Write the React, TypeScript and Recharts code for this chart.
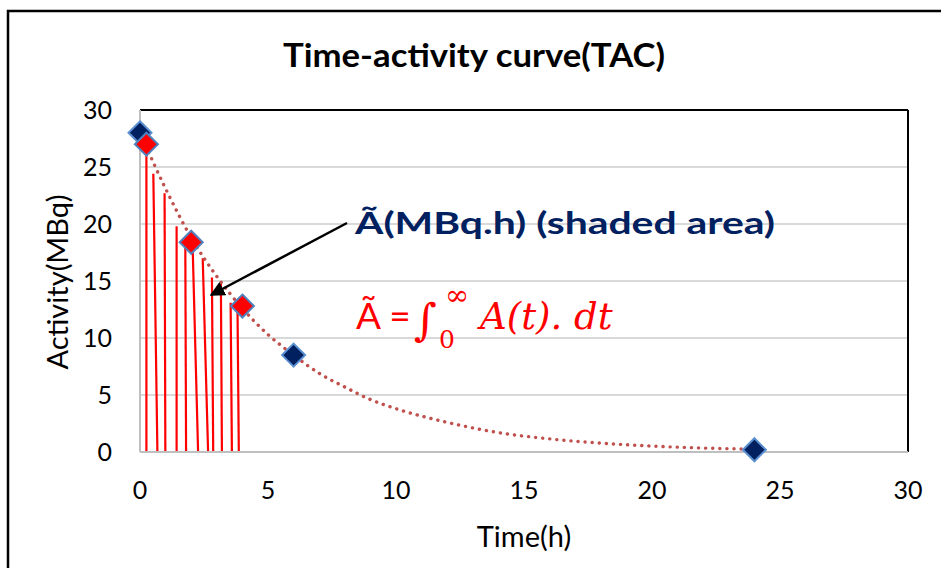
import {
  ComposedChart,
  Line,
  Scatter,
  XAxis,
  YAxis,
  CartesianGrid,
  ReferenceLine,
} from 'recharts';

// measured activity (MBq) at sample times (h)
const measuredTimes = [0, 6, 24];
const measuredActivity = [28, 8.5, 0.2];

// highlighted samples on the early part of the curve
const highlightTimes = [0.25, 2, 4];
const highlightActivity = [27, 18.4, 12.8];

// fitted decay curve, read along its path
const curveTimes = [0, 1, 2, 3, 4, 5, 6, 7, 8, 9, 10, 12, 14, 16, 18, 20, 22, 24];
const curveActivity = [28, 23.1, 18.8, 15.4, 12.6, 10.3, 8.5, 6.9, 5.7, 4.6, 3.8, 2.6, 1.7, 1.15, 0.78, 0.52, 0.35, 0.24];

// hatching strokes under the curve (top time, bottom time, top activity)
const stripTopTimes = [0.25, 0.52, 0.96, 1.43, 1.77, 2.06, 2.45, 2.81, 3.16, 3.54, 3.81];
const stripBottomTimes = [0.25, 0.68, 0.99, 1.43, 1.8, 2.27, 2.66, 2.86, 3.2, 3.59, 3.86];
const stripTopActivity = [27, 24.4, 22.7, 19.8, 18.0, 17.7, 17.0, 15.3, 14.8, 13.1, 12.3];

const xTicks = [0, 5, 10, 15, 20, 25, 30];
const yTicks = [0, 5, 10, 15, 20, 25, 30];

const measured = measuredTimes.map((t, i) => ({ t, a: measuredActivity[i] }));
const highlight = highlightTimes.map((t, i) => ({ t, a: highlightActivity[i] }));
const curve = curveTimes.map((t, i) => ({ t, a: curveActivity[i] }));

const FONT = 'Lato, "Open Sans", sans-serif';
const MATH = '"DejaVu Serif", serif';

const Diamond = (props: any) => {
  const { cx, cy, fill, stroke } = props;
  const r = 11.5;
  return (
    <polygon
      points={`${cx},${cy - r} ${cx + r},${cy} ${cx},${cy + r} ${cx - r},${cy}`}
      fill={fill}
      stroke={stroke}
      strokeWidth={2}
    />
  );
};

const App = () => {
  return (
    <div
      style={{
        position: 'absolute',
        left: 0,
        top: 0,
        width: 941,
        height: 568,
        background: '#fff',
        fontFamily: FONT,
        overflow: 'hidden',
      }}
    >
      <ComposedChart
        width={941}
        height={568}
        margin={{ top: 110, right: 33, bottom: 56, left: 0 }}
      >
        <CartesianGrid vertical={false} stroke='#d9d9d9' strokeWidth={2} />
        <XAxis
          type='number'
          dataKey='t'
          domain={[0, 30]}
          ticks={xTicks}
          height={60}
          tickLine={false}
          tickSize={0}
          tickMargin={29}
          axisLine={{ stroke: '#bfbfbf', strokeWidth: 2 }}
          tick={{ fill: '#000', fontSize: 25, fontFamily: FONT }}
        />
        <YAxis
          type='number'
          dataKey='a'
          domain={[0, 30]}
          ticks={yTicks}
          width={140}
          tickLine={false}
          tickSize={0}
          tickMargin={28}
          axisLine={{ stroke: '#bfbfbf', strokeWidth: 2 }}
          tick={{ fill: '#000', fontSize: 25, fontFamily: FONT }}
        />
        <ReferenceLine y={30} stroke='#000' strokeWidth={2} />
        <ReferenceLine x={30} stroke='#000' strokeWidth={2} />
        {stripTopTimes.map((t, i) => (
          <ReferenceLine
            key={i}
            segment={[
              { x: t, y: stripTopActivity[i] },
              { x: stripBottomTimes[i], y: 0 },
            ]}
            stroke='#ff0000'
            strokeWidth={2.2}
          />
        ))}
        <Scatter
          data={measured}
          dataKey='a'
          fill='#002060'
          shape={(p: any) => <Diamond {...p} fill='#002060' stroke='#5b8fd0' />}
          isAnimationActive={false}
        />
        <Scatter
          data={highlight}
          dataKey='a'
          fill='#ff0000'
          shape={(p: any) => <Diamond {...p} fill='#ff0000' stroke='#4f81bd' />}
          isAnimationActive={false}
        />
        <Line
          data={curve}
          dataKey='a'
          type='monotone'
          stroke='#c0504d'
          strokeWidth={3.4}
          strokeDasharray='0.1 7'
          strokeLinecap='round'
          dot={false}
          activeDot={false}
          isAnimationActive={false}
        />
      </ComposedChart>

      {/* title, axis titles, annotation and frame */}
      <svg
        width={941}
        height={568}
        style={{ position: 'absolute', left: 0, top: 0, pointerEvents: 'none' }}
      >
        <defs>
          <marker
            id='arrowHead'
            viewBox='0 0 10 10'
            refX='9'
            refY='5'
            markerWidth='6'
            markerHeight='6'
            orient='auto'
            markerUnits='strokeWidth'
          >
            <path d='M0,0 L10,5 L0,10 z' fill='#000' />
          </marker>
        </defs>
        <path d='M8,568 L8,11 L941,11' fill='none' stroke='#000' strokeWidth={2.5} />
        <text
          x={474}
          y={67}
          textAnchor='middle'
          fontFamily={FONT}
          fontWeight={700}
          fontSize={32}
          fill='#000'
          textLength={382}
          lengthAdjust='spacingAndGlyphs'
        >
          Time-activity curve(TAC)
        </text>
        <text
          transform='translate(68,282) rotate(-90)'
          textAnchor='middle'
          fontFamily={FONT}
          fontSize={29}
          fill='#000'
        >
          Activity(MBq)
        </text>
        <text x={524} y={547} textAnchor='middle' fontFamily={FONT} fontSize={29} fill='#000'>
          Time(h)
        </text>
        <line
          x1={347}
          y1={223}
          x2={211}
          y2={295}
          stroke='#000'
          strokeWidth={2.5}
          markerEnd='url(#arrowHead)'
        />
        <text
          x={355}
          y={234}
          fontFamily={FONT}
          fontWeight={700}
          fontSize={31}
          fill='#002060'
          textLength={420}
          lengthAdjust='spacingAndGlyphs'
        >
          Ã(MBq.h) (shaded area)
        </text>
        <text x={356} y={329} fontFamily={FONT} fontSize={37} fill='#ff0000'>
          Ã =
        </text>
        <text x={414} y={335} fontFamily={MATH} fontSize={44} fill='#ff0000'>
          ∫
        </text>
        <text x={439} y={348} fontFamily={MATH} fontSize={25} fill='#ff0000'>
          0
        </text>
        <text x={445} y={305} fontFamily={MATH} fontSize={29} fill='#ff0000'>
          ∞
        </text>
        <text x={480} y={329} fontFamily={MATH} fontStyle='italic' fontSize={37} fill='#ff0000'>
          A(t). dt
        </text>
      </svg>
    </div>
  );
};

export default App;
